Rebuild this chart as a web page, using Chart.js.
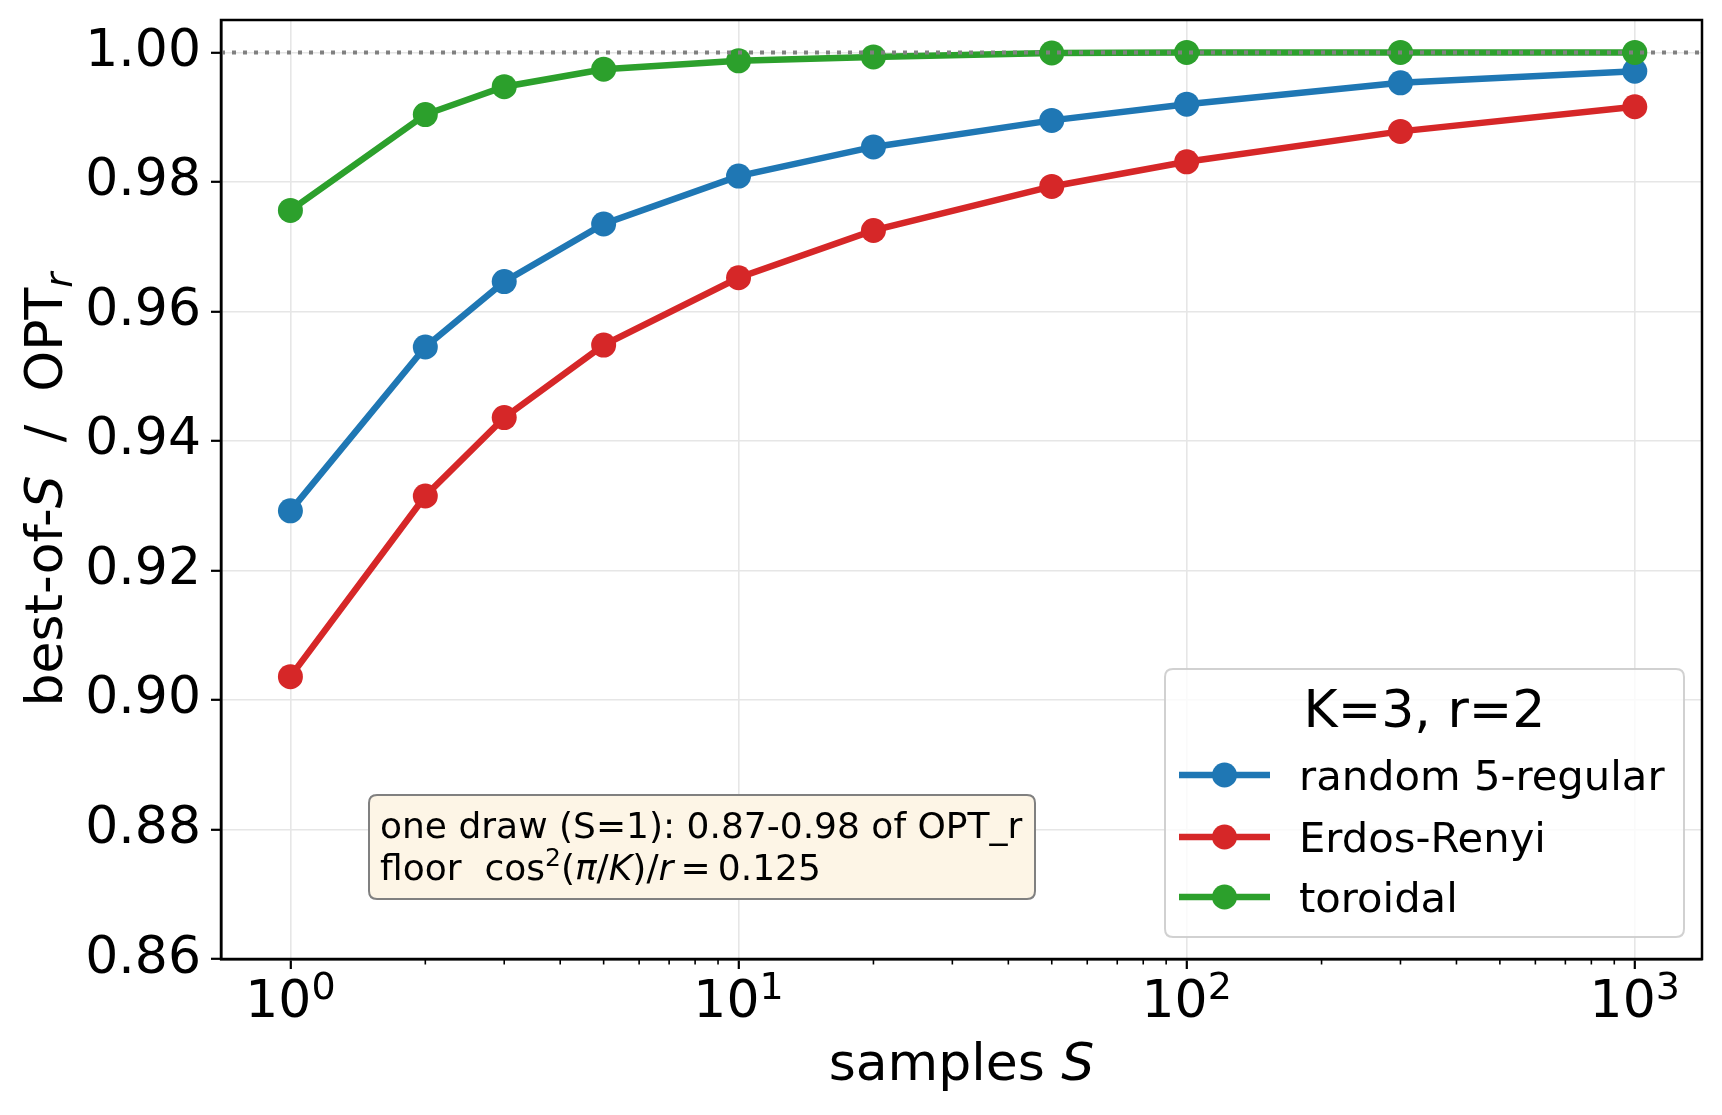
<!DOCTYPE html>
<html>
<head>
<meta charset="utf-8">
<script src="https://cdn.jsdelivr.net/npm/chart.js@4.4.1/dist/chart.umd.min.js"></script>
<style>
  html, body { margin: 0; padding: 0; background: #fff; }
  #wrap { width: 1722px; height: 1115px; }
</style>
</head>
<body>
<div id="wrap"><canvas id="chart" width="1722" height="1115"></canvas></div>
<script>
// data
const samples = [1, 2, 3, 5, 10, 20, 50, 100, 300, 1000];
const regular5 = [0.9292, 0.9545, 0.9646, 0.9735, 0.9809, 0.9854, 0.9895, 0.9920, 0.9953, 0.9971];
const erdosRenyi = [0.9036, 0.9315, 0.9436, 0.9548, 0.9652, 0.9725, 0.9793, 0.9831, 0.9878, 0.9916];
const toroidal = [0.9756, 0.9904, 0.9947, 0.9974, 0.9987, 0.9993, 0.9999, 1.0000, 1.0000, 1.0000];

const seriesNames = ['random 5-regular', 'Erdos-Renyi', 'toroidal'];
const seriesColors = ['#1f77b4', '#d62728', '#2ca02c'];

const yTicks = [0.86, 0.88, 0.90, 0.92, 0.94, 0.96, 0.98, 1.00];
const xMajorTicks = [1, 10, 100, 1000];
const xMinorTicks = [2, 3, 4, 5, 6, 7, 8, 9, 20, 30, 40, 50, 60, 70, 80, 90, 200, 300, 400, 500, 600, 700, 800, 900];
const refLevel = 1.0;

const legendTitle = 'K=3, r=2';
const noteLine1 = 'one draw (S=1): 0.87-0.98 of OPT_r';

const FONT = 'DejaVu Sans';

function drawRuns(ctx, runs, x, y, align) {
  let total = 0;
  runs.forEach(r => {
    ctx.font = r.font;
    r.w = ctx.measureText(r.text).width;
    total += r.w;
  });
  let cx = align === 'center' ? x - total / 2 : x;
  ctx.textAlign = 'left';
  ctx.textBaseline = 'alphabetic';
  runs.forEach(r => {
    ctx.font = r.font;
    ctx.fillText(r.text, cx, y + (r.dy || 0));
    cx += r.w;
  });
}

function roundRect(ctx, x0, y0, x1, y1, r) {
  ctx.beginPath();
  ctx.moveTo(x0 + r, y0);
  ctx.lineTo(x1 - r, y0);
  ctx.quadraticCurveTo(x1, y0, x1, y0 + r);
  ctx.lineTo(x1, y1 - r);
  ctx.quadraticCurveTo(x1, y1, x1 - r, y1);
  ctx.lineTo(x0 + r, y1);
  ctx.quadraticCurveTo(x0, y1, x0, y1 - r);
  ctx.lineTo(x0, y0 + r);
  ctx.quadraticCurveTo(x0, y0, x0 + r, y0);
  ctx.closePath();
}

// extras: reference line, spines, minor ticks, tick labels, titles, note, legend
const decorations = {
  id: 'decorations',
  afterDatasetsDraw(chart) {
    const ctx = chart.ctx;
    const area = chart.chartArea;
    const xs = chart.scales.x;
    const ys = chart.scales.y;
    ctx.save();

    // dotted line at 1.0
    const yRef = ys.getPixelForValue(refLevel);
    ctx.strokeStyle = '#808080';
    ctx.lineWidth = 4;
    ctx.setLineDash([4, 7]);
    ctx.beginPath();
    ctx.moveTo(area.left, yRef);
    ctx.lineTo(area.right, yRef);
    ctx.stroke();
    ctx.setLineDash([]);

    // spines
    ctx.strokeStyle = '#000';
    ctx.lineWidth = 2.5;
    ctx.strokeRect(area.left, area.top, area.right - area.left, area.bottom - area.top);

    // minor ticks on log axis
    ctx.lineWidth = 1.6;
    xMinorTicks.forEach(v => {
      const px = xs.getPixelForValue(v);
      ctx.beginPath();
      ctx.moveTo(px, area.bottom);
      ctx.lineTo(px, area.bottom + 5.5);
      ctx.stroke();
    });

    // x tick labels 10^n
    ctx.fillStyle = '#000';
    xMajorTicks.forEach(v => {
      const px = xs.getPixelForValue(v);
      drawRuns(ctx, [
        { text: '10', font: `52px "${FONT}"` },
        { text: String(Math.round(Math.log10(v))), font: `38px "${FONT}"`, dy: -18 }
      ], px, 1017, 'center');
    });

    // axis titles
    const cxPlot = (area.left + area.right) / 2;
    const cyPlot = (area.top + area.bottom) / 2;
    drawRuns(ctx, [
      { text: 'samples ', font: `52px "${FONT}"` },
      { text: 'S', font: `italic 52px "${FONT}"` }
    ], cxPlot, 1080, 'center');

    ctx.save();
    ctx.translate(62, cyPlot);
    ctx.rotate(-Math.PI / 2);
    drawRuns(ctx, [
      { text: 'best-of-', font: `52px "${FONT}"` },
      { text: 'S', font: `italic 52px "${FONT}"` },
      { text: '  /  OPT', font: `52px "${FONT}"` },
      { text: 'r', font: `italic 37px "${FONT}"`, dy: 10 }
    ], 0, 0, 'center');
    ctx.restore();

    // note box
    roundRect(ctx, 369, 795, 1035, 899, 8);
    ctx.fillStyle = '#fdf5e6';
    ctx.fill();
    ctx.strokeStyle = '#808080';
    ctx.lineWidth = 2;
    ctx.stroke();
    ctx.fillStyle = '#000';
    drawRuns(ctx, [{ text: noteLine1, font: `36px "${FONT}"` }], 380, 838, 'left');
    drawRuns(ctx, [
      { text: 'floor  cos', font: `36px "${FONT}"` },
      { text: '2', font: `25px "${FONT}"`, dy: -14 },
      { text: '(', font: `36px "${FONT}"` },
      { text: '\u03c0', font: `italic 36px "${FONT}"` },
      { text: '/', font: `36px "${FONT}"` },
      { text: 'K', font: `italic 36px "${FONT}"` },
      { text: ')/', font: `36px "${FONT}"` },
      { text: 'r', font: `italic 36px "${FONT}"` },
      { text: '\u2009=\u20090.125', font: `36px "${FONT}"` }
    ], 380, 880, 'left');

    // legend
    roundRect(ctx, 1165, 669, 1684, 937, 8);
    ctx.fillStyle = 'rgba(255,255,255,0.8)';
    ctx.fill();
    ctx.strokeStyle = 'rgba(204,204,204,0.9)';
    ctx.lineWidth = 2;
    ctx.stroke();
    ctx.fillStyle = '#000';
    ctx.font = `52px "${FONT}"`;
    ctx.textAlign = 'center';
    ctx.fillText(legendTitle, 1424.5, 727);
    const rowY = [775, 837, 897];
    seriesNames.forEach((name, i) => {
      ctx.strokeStyle = seriesColors[i];
      ctx.lineWidth = 6.5;
      ctx.beginPath();
      ctx.moveTo(1179, rowY[i]);
      ctx.lineTo(1270, rowY[i]);
      ctx.stroke();
      ctx.fillStyle = seriesColors[i];
      ctx.beginPath();
      ctx.arc(1224.5, rowY[i], 12.5, 0, Math.PI * 2);
      ctx.fill();
      ctx.fillStyle = '#000';
      ctx.font = `41.7px "${FONT}"`;
      ctx.textAlign = 'left';
      ctx.fillText(name, 1299, rowY[i] + 14.5);
    });

    ctx.restore();
  }
};

const seriesValues = [regular5, erdosRenyi, toroidal];
const datasets = seriesValues.map((vals, i) => ({
  label: seriesNames[i],
  data: samples.map((s, k) => ({ x: s, y: vals[k] })),
  borderColor: seriesColors[i],
  backgroundColor: seriesColors[i],
  pointBackgroundColor: seriesColors[i],
  pointBorderWidth: 0,
  pointRadius: 12.5,
  borderWidth: 6.5,
  tension: 0,
  fill: false,
  clip: false,
  order: 3 - i
}));

const gridOpts = {
  color: '#e6e6e6',
  lineWidth: 1.6,
  drawTicks: true,
  tickLength: 10,
  tickWidth: 2.2,
  tickColor: '#000'
};

new Chart(document.getElementById('chart'), {
  type: 'line',
  data: { datasets },
  options: {
    responsive: false,
    animation: false,
    devicePixelRatio: 1,
    events: [],
    layout: { padding: { top: 20, right: 20, left: 0, bottom: 0 } },
    plugins: {
      legend: { display: false },
      tooltip: { enabled: false }
    },
    scales: {
      x: {
        type: 'logarithmic',
        min: Math.pow(10, -0.15),
        max: Math.pow(10, 3.15),
        afterBuildTicks: scale => { scale.ticks = xMajorTicks.map(v => ({ value: v })); },
        ticks: { display: false },
        grid: gridOpts,
        border: { display: true, color: '#000', width: 2.5 },
        afterFit: scale => {
          scale.height = 156;
          scale.paddingLeft = 0;
          scale.paddingRight = 0;
        }
      },
      y: {
        type: 'linear',
        min: 0.86,
        max: 1.005,
        afterBuildTicks: scale => { scale.ticks = yTicks.map(v => ({ value: v })); },
        ticks: {
          callback: v => v.toFixed(2),
          font: { family: FONT, size: 52 },
          color: '#000',
          padding: 10
        },
        grid: gridOpts,
        border: { display: true, color: '#000', width: 2.5 },
        afterFit: scale => {
          scale.width = 221;
          scale.paddingTop = 0;
          scale.paddingBottom = 0;
        }
      }
    }
  },
  plugins: [decorations]
});
</script>
</body>
</html>
